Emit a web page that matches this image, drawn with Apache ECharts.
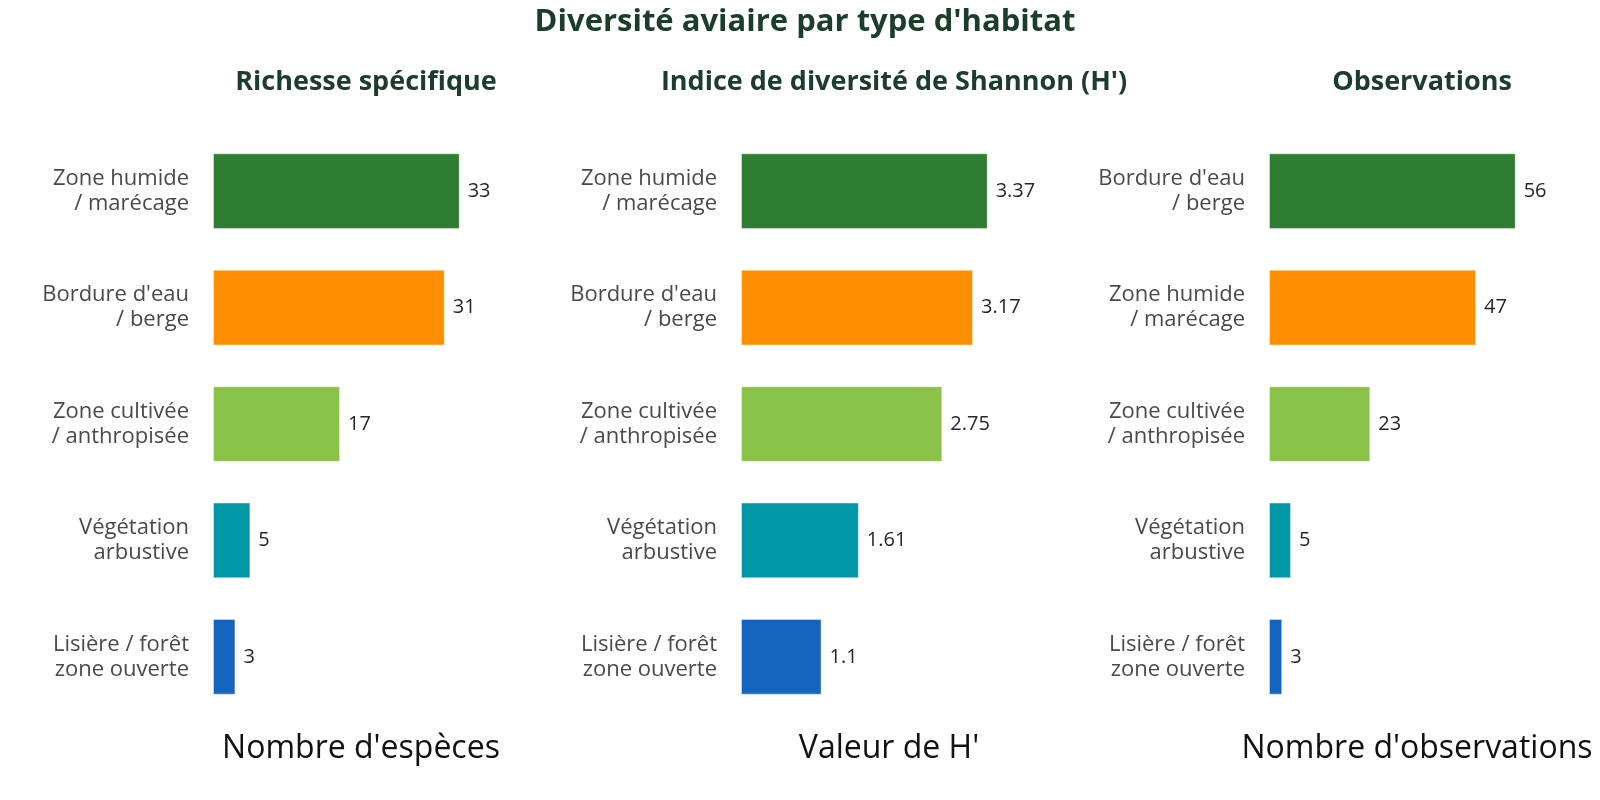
<!DOCTYPE html>
<html>
<head>
<meta charset="utf-8">
<title>Diversité aviaire par type d'habitat</title>
<script src="https://cdn.jsdelivr.net/npm/echarts@6/dist/echarts.min.js"></script>
<style>
  html, body { margin: 0; padding: 0; background: #fff; }
  #chart { width: 1600px; height: 800px; }
</style>
</head>
<body>
<div id="chart"></div>
<script>
// habitats, top to bottom, per panel
var richnessCats = ['Zone humide\n/ marécage', "Bordure d'eau\n/ berge", 'Zone cultivée\n/ anthropisée', 'Végétation\narbustive', 'Lisière / forêt\nzone ouverte']
var richnessVals = [33, 31, 17, 5, 3]

var shannonCats = ['Zone humide\n/ marécage', "Bordure d'eau\n/ berge", 'Zone cultivée\n/ anthropisée', 'Végétation\narbustive', 'Lisière / forêt\nzone ouverte']
var shannonVals = [3.37, 3.17, 2.75, 1.61, 1.1]

var obsCats = ["Bordure d'eau\n/ berge", 'Zone humide\n/ marécage', 'Zone cultivée\n/ anthropisée', 'Végétation\narbustive', 'Lisière / forêt\nzone ouverte']
var obsVals = [56, 47, 23, 5, 3]

var panelTitles = ['Richesse spécifique', "Indice de diversité de Shannon (H')", 'Observations']
var axisNames = ["Nombre d'espèces", "Valeur de H'", "Nombre d'observations"]

var rankColors = ['#2e7d32', '#ff8f00', '#8bc34a', '#0097a7', '#1565c0']

var FONT = '"Open Sans", "Noto Sans", sans-serif'
var panels = [
  { cats: richnessCats, vals: richnessVals },
  { cats: shannonCats, vals: shannonVals },
  { cats: obsCats, vals: obsVals }
]
var lefts = [213, 741, 1269]
var gridW = 296

var chart = echarts.init(document.getElementById('chart'))

var option = {
  backgroundColor: '#fff',
  animation: false,
  title: [{
    text: "Diversité aviaire par type d'habitat",
    left: 800, top: 2, textAlign: 'center',
    textStyle: { fontFamily: FONT, fontSize: 31, fontWeight: 'bold', color: '#1b3d2a' }
  }].concat(panelTitles.map(function (t, i) {
    return {
      text: t,
      left: lefts[i] + gridW / 2, top: 64, textAlign: 'center',
      textStyle: { fontFamily: FONT, fontSize: 27, fontWeight: 'bold', color: '#1b3d2a' }
    }
  })),
  grid: lefts.map(function (l) {
    return { left: l, width: gridW, top: 133, height: 582, containLabel: false }
  }),
  xAxis: panels.map(function (p, i) {
    return {
      type: 'value',
      gridIndex: i,
      min: 0,
      max: Math.max.apply(null, p.vals) * 1.2,
      name: axisNames[i],
      nameLocation: 'middle',
      nameGap: 18,
      nameTextStyle: { fontFamily: FONT, fontSize: 32, color: '#111' },
      axisLine: { show: false },
      axisTick: { show: false },
      axisLabel: { show: false },
      splitLine: { show: false }
    }
  }),
  yAxis: panels.map(function (p, i) {
    return {
      type: 'category',
      gridIndex: i,
      data: p.cats,
      inverse: true,
      axisLine: { show: false },
      axisTick: { show: false },
      splitLine: { show: false },
      axisLabel: {
        margin: 24,
        fontFamily: FONT,
        fontSize: 22,
        lineHeight: 25,
        color: '#4a4a4a',
        align: 'right'
      }
    }
  }),
  series: panels.map(function (p, i) {
    return {
      type: 'bar',
      xAxisIndex: i,
      yAxisIndex: i,
      barWidth: '65%',
      data: p.vals.map(function (v, k) {
        return { value: v, itemStyle: { color: rankColors[k] } }
      }),
      itemStyle: { borderColor: 'rgba(255,255,255,0.4)', borderWidth: 1 },
      label: {
        show: true,
        position: 'right',
        distance: 8,
        fontFamily: FONT,
        fontSize: 20,
        color: '#2a2233'
      }
    }
  })
}

chart.setOption(option)
</script>
</body>
</html>
